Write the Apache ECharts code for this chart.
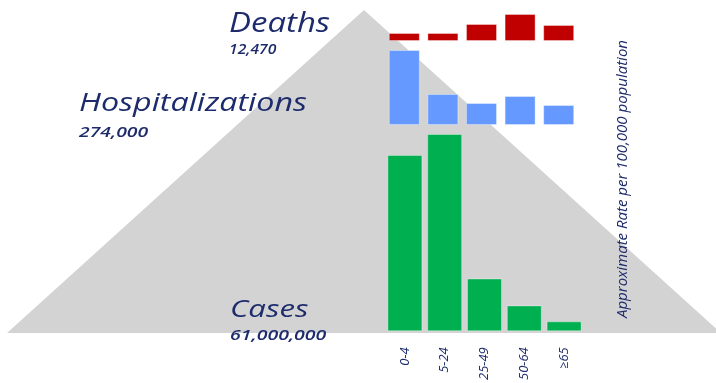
<!DOCTYPE html>
<html>
<head>
<meta charset="utf-8">
<title>Burden pyramid by age group</title>
<script src="https://cdn.jsdelivr.net/npm/echarts@6/dist/echarts.min.js"></script>
<style>
  html, body { margin: 0; padding: 0; background: #ffffff; }
  #chart { width: 716px; height: 383px; }
</style>
</head>
<body>
<div id="chart"></div>
<script>
// Age groups shared by all three panels
var ageGroups = ['0-4', '5-24', '25-49', '50-64', '\u226565'];

// Approximate rate per 100,000 population, by age group
var deathRates = [0.8, 0.8, 1.7, 2.7, 1.6];
var hospitalizationRates = [75, 31, 22, 29, 20];
var caseRates = [17700, 19800, 5300, 2600, 1000];

// Panel headings and their totals
var panelTitles = ['Deaths', 'Hospitalizations', 'Cases'];
var panelTotals = ['12,470', '274,000', '61,000,000'];
var rateNote = 'Approximate Rate per 100,000 population';

var navy = '#1d2b6c';
var font = '"Open Sans", "Noto Sans", sans-serif';

var chart = echarts.init(document.getElementById('chart'), null, { renderer: 'canvas' });

function hiddenValueAxis(gridIndex, max) {
  return {
    type: 'value', gridIndex: gridIndex, min: 0, max: max,
    show: false, splitLine: { show: false }
  };
}

function categoryAxis(gridIndex, showLabels) {
  return {
    type: 'category', gridIndex: gridIndex, data: ageGroups,
    axisLine: { show: false }, axisTick: { show: false },
    axisLabel: showLabels ? {
      show: true, rotate: 90, margin: 16, interval: 0,
      fontStyle: 'italic', fontFamily: font, fontSize: 13, color: navy
    } : { show: false },
    splitLine: { show: false }
  };
}

function barSeries(idx, data, color, width) {
  return {
    type: 'bar', xAxisIndex: idx, yAxisIndex: idx, data: data,
    barWidth: width, silent: true,
    itemStyle: { color: color, borderColor: 'rgba(255,255,255,0.35)', borderWidth: 1 }
  };
}

// Left-aligned italic heading, widened a little with a horizontal scale
function headingText(text, x, y, size, widen, weight) {
  return {
    type: 'text', x: x, y: y, z: 10, scaleX: widen, scaleY: 1,
    style: {
      text: text, fill: navy, textAlign: 'left', textVerticalAlign: 'middle',
      font: 'italic ' + (weight || 400) + ' ' + size + 'px ' + font
    }
  };
}

var option = {
  backgroundColor: '#ffffff',
  animation: false,
  grid: [
    { left: 385, width: 193, top: 11, height: 30 },
    { left: 385, width: 193, top: 45, height: 80 },
    { left: 385, width: 199, top: 132, height: 200 }
  ],
  xAxis: [categoryAxis(0, false), categoryAxis(1, false), categoryAxis(2, true)],
  yAxis: [hiddenValueAxis(0, 3), hiddenValueAxis(1, 80), hiddenValueAxis(2, 20000)],
  series: [
    barSeries(0, deathRates, '#c00000', 31),
    barSeries(1, hospitalizationRates, '#6699ff', 31),
    barSeries(2, caseRates, '#00b050', 35)
  ],
  graphic: [
    // grey pyramid behind the bars
    {
      type: 'polygon', z: -10, silent: true,
      shape: { points: [[7, 333], [364, 10], [721, 333]] },
      style: { fill: '#d3d3d3' }
    },
    headingText(panelTitles[0], 229, 24, 27, 1.22),
    headingText(panelTotals[0], 229, 50, 14, 1.12, 600),
    headingText(panelTitles[1], 79, 104, 25, 1.29),
    headingText(panelTotals[1], 79, 133, 15, 1.29, 600),
    headingText(panelTitles[2], 230, 310, 24, 1.3),
    headingText(panelTotals[2], 230, 336, 15, 1.3, 600),
    {
      type: 'text', x: 623, y: 179, rotation: Math.PI / 2, z: 10,
      style: {
        text: rateNote, fill: navy, textAlign: 'center', textVerticalAlign: 'middle',
        font: 'italic 15px ' + font
      }
    }
  ]
};

chart.setOption(option);
</script>
</body>
</html>
